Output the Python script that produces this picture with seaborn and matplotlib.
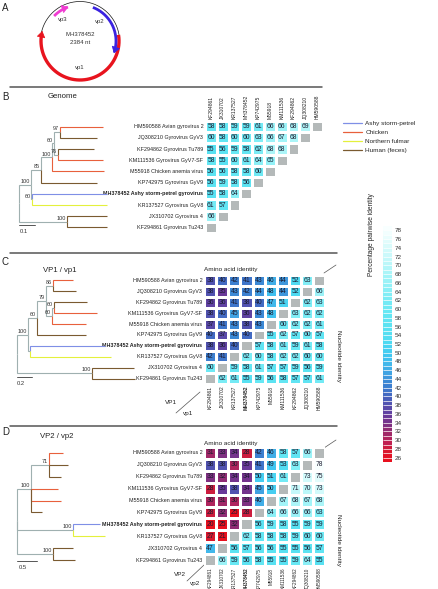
import numpy as np
import pandas as pd
import matplotlib
matplotlib.use("Agg")
import matplotlib.pyplot as plt
import seaborn as sns
from matplotlib.colors import LinearSegmentedColormap, ListedColormap, Normalize
from matplotlib.lines import Line2D
from matplotlib.cm import ScalarMappable

sns.set_theme(style="white")
plt.rcParams['font.family'] = ['Liberation Sans', 'DejaVu Sans']

W, H = 439, 589

# ---------------- data ----------------
row_ids = ["HM590588", "JQ308210", "KF294862", "KM111536", "M55918",
           "KP742975", "MH378452", "KR137527", "JX310702", "KF294861"]
row_names = ["Avian gyrovirus 2", "Gyrovirus GyV3", "Gyrovirus Tu789", "Gyrovirus GyV7-SF",
             "Chicken anemia virus", "Gyrovirus GyV9", "Ashy storm-petrel gyrovirus",
             "Gyrovirus GyV8", "Gyrovirus 4", "Gyrovirus Tu243"]
col_ids = ["KF294861", "JX310702", "KR137527", "MH378452", "KP742975",
           "M55918", "KM111536", "KF294862", "JQ308210", "HM590588"]
hosts = ["Chicken", "Human (feces)", "Human (feces)", "Chicken", "Chicken",
         "Human (feces)", "Ashy storm-petrel", "Northern fulmar", "Human (feces)", "Human (feces)"]
host_names = ["Ashy storm-petrel", "Chicken", "Northern fulmar", "Human (feces)"]
host_colors = ["#7f8fe6", "#e8603c", "#e4f03c", "#7a5a30"]

N = None
genome = [
    [58, 58, 59, 59, 61, 66, 66, 68, 69, N],
    [60, 58, 60, 60, 63, 66, 67, 68, N, N],
    [55, 56, 59, 58, 62, 68, 68, N, N, N],
    [58, 55, 60, 61, 64, 65, N, N, N, N],
    [56, 56, 58, 58, 60, N, N, N, N, N],
    [56, 59, 58, 56, N, N, N, N, N, N],
    [55, 58, 64, N, N, N, N, N, N, N],
    [61, 57, N, N, N, N, N, N, N, N],
    [66, N, N, N, N, N, N, N, N, N],
    [N, N, N, N, N, N, N, N, N, N],
]
vp1 = [
    [38, 40, 42, 41, 43, 46, 44, 52, 63, N],
    [38, 35, 43, 42, 44, 48, 44, 52, N, 66],
    [36, 36, 41, 38, 40, 47, 51, N, 62, 63],
    [38, 40, 45, 36, 43, 48, N, 63, 62, 62],
    [37, 41, 43, 38, 43, N, 60, 62, 62, 61],
    [40, 37, 43, 40, N, 55, 62, 57, 60, 57],
    [38, 36, 40, N, 57, 58, 61, 59, 61, 58],
    [42, 41, N, 62, 60, 58, 62, 62, 60, 60],
    [60, N, 59, 58, 61, 57, 57, 59, 56, 59],
    [N, 62, 61, 55, 59, 56, 58, 57, 57, 61],
]
vp2 = [
    [31, 33, 34, 28, 42, 46, 58, 57, 66, N],
    [38, 38, 30, 35, 41, 49, 53, 63, N, 78],
    [33, 32, 34, 34, 50, 51, 61, N, 73, 75],
    [28, 35, 38, 34, 45, 50, N, 71, 70, 73],
    [30, 31, 30, 33, 46, N, 67, 68, 67, 68],
    [28, 32, 25, 28, N, 64, 66, 66, 66, 63],
    [20, 25, 32, N, 56, 59, 58, 55, 59, 59],
    [27, 21, N, 62, 58, 58, 58, 59, 60, 60],
    [47, N, 56, 57, 56, 56, 55, 55, 56, 57],
    [N, 66, 59, 56, 58, 55, 55, 59, 64, 55],
]

# trees: (parent, child, branch length)
g_par = ["R", "A", "B85", "C100", "D60", "E97", "E97", "D60", "F76", "F76", "C100", "B85", "A", "G60", "G60", "R", "J100", "J100"]
g_chi = ["A", "B85", "C100", "D60", "E97", "HM590588", "JQ308210", "F76", "KF294862", "KM111536", "M55918", "KP742975", "G60", "MH378452", "KR137527", "J100", "JX310702", "KF294861"]
g_len = [0.075, 0.0625, 0.067, 0.016, 0.036, 0.267, 0.229, 0.025, 0.223, 0.277, 0.327, 0.348, 0.008, 0.465, 0.469, 0.298, 0.254, 0.254]
g_sup = {"A": 100, "B85": 85, "C100": 100, "D60": 60, "E97": 97, "F76": 76, "G60": 60, "J100": 100}

v1_par = ["R", "A", "B60", "C79", "D86", "D86", "C79", "E60", "F60", "F60", "E60", "B60", "A", "G", "G", "R", "J100", "J100"]
v1_chi = ["A", "B60", "C79", "D86", "HM590588", "JQ308210", "E60", "F60", "KF294862", "KM111536", "M55918", "KP742975", "G", "MH378452", "KR137527", "J100", "JX310702", "KF294861"]
v1_len = [0.155, 0.112, 0.124, 0.089, 0.267, 0.311, 0.076, 0.035, 0.432, 0.573, 0.457, 0.657, 0.027, 1.0, 1.07, 1.0, 0.56, 0.58]
v1_sup = {"A": 100, "B60": 60, "C79": 79, "D86": 86, "E60": 60, "F60": 60, "J100": 100}

v2_par = ["R", "A100", "B71", "B71", "B71", "A100", "A100", "A100", "R", "G100", "G100", "R", "J100", "J100"]
v2_chi = ["A100", "B71", "HM590588", "JQ308210", "KF294862", "KM111536", "M55918", "KP742975", "G100", "MH378452", "KR137527", "J100", "JX310702", "KF294861"]
v2_len = [0.35, 0.458, 0.335, 0.475, 0.285, 0.68, 0.75, 0.27, 1.4, 0.67, 0.8, 0.9, 0.5, 0.55]
v2_sup = {"A100": 100, "B71": 71, "G100": 100, "J100": 100}

# ---------------- colours ----------------
anchors = [(25, '#e8101e'), (27, '#d8182e'), (29, '#c02050'), (31, '#a02868'), (33, '#803080'),
           (35, '#6a3898'), (37, '#5a48a8'), (39, '#4a5cb8'), (41, '#3f72c8'), (43, '#3c86d4'),
           (45, '#40a0e0'), (47, '#42b4ea'), (49, '#40c4f0'), (51, '#48d2f2'), (53, '#50dcf2'),
           (56, '#5ae2f2'), (60, '#68e8f4'), (64, '#84eef6'), (68, '#a4f4f8'), (72, '#c4f8fa'),
           (76, '#e2fcfc'), (79, '#f8ffff')]
vmin, vmax = 25, 79
cont = LinearSegmentedColormap.from_list(
    "pid", [((v - vmin) / (vmax - vmin), c) for v, c in anchors])
cmap = ListedColormap(cont(np.linspace(0, 1, vmax - vmin)))
GREY = "#9fb0b0"
CELLGREY = "#b4b9b9"

fig = plt.figure(figsize=(W / 100, H / 100), dpi=100)


def px_axes(left, top, width, height):
    return fig.add_axes([left / W, 1 - (top + height) / H, width / W, height / H])


ax0 = px_axes(0, 0, W, H)
ax0.set_xlim(0, W)
ax0.set_ylim(H, 0)
ax0.axis("off")

# ---------------- panel A (genome map) ----------------
cx, cy = 80, 41


def arc(r, t0, t1, color, lw, arrow=True):
    t = np.radians(np.linspace(t0, t1, 160))
    xs = cx + r * np.cos(t)
    ys = cy - r * np.sin(t)
    cut = 4 if arrow else 0
    ax0.plot(xs[:len(xs) - cut], ys[:len(ys) - cut], color=color, lw=lw, solid_capstyle='butt')
    if arrow:
        ax0.annotate("", xy=(xs[-1], ys[-1]), xytext=(xs[-6], ys[-6]),
                     arrowprops=dict(arrowstyle="-|>,head_length=0.45,head_width=0.3",
                                     color=color, lw=0.5, shrinkA=0, shrinkB=0,
                                     mutation_scale=9))


arc(39.5, 0, 360, "#111111", 0.5, arrow=False)
arc(39, 9, -195, "#e8141e", 2.4)
arc(36, 69, -20, "#3a22e0", 2.0)
arc(36, 136, 109, "#f03cd2", 2.0)
for txt, (x, y) in zip(["vp3", "vp2", "MH378452", "2384 nt", "vp1"],
                       [(63, 19), (100, 22), (80, 35), (80, 43), (80, 67)]):
    ax0.text(x, y, txt, fontsize=4.3, ha="center", va="center", color="#333333")

# separators & panel labels
for y, x1 in [(87, 322), (253, 337), (426, 337)]:
    ax0.plot([10, x1], [y, y], color="#555555", lw=1.1)
for lab, y in zip("ABCD", [8, 97, 262, 432]):
    ax0.text(2, y, lab, fontsize=7, ha="left", va="center", color="#222222")
for t, x, y in [("Genome", 48, 96), ("VP1 / vp1", 43, 271), ("VP2 / vp2", 40, 437)]:
    ax0.text(x, y, t, fontsize=5.6, ha="left", va="center", color="#222222")
for y in [269, 443]:
    ax0.text(204, y, "Amino acid identity", fontsize=4.6, ha="left", va="center", color="#222222")
for y in [356, 540]:
    ax0.text(339, y, "Nucleotide identity", fontsize=4.6, ha="center", va="center",
             rotation=-90, color="#222222")
for y0 in [273, 448]:
    ax0.plot([324, 336], [y0, y0 - 8], color="#555555", lw=0.5)
ax0.plot([176, 200], [413, 392], color="#555555", lw=0.5)
ax0.text(177, 403, "VP1", fontsize=4.6, ha="right", va="center", color="#222222")
ax0.text(183, 413, "vp1", fontsize=4.6, ha="left", va="center", color="#222222")
ax0.plot([187, 204], [581, 565], color="#555555", lw=0.5)
ax0.text(186, 574, "VP2", fontsize=4.6, ha="right", va="center", color="#222222")
ax0.text(190, 584, "vp2", fontsize=4.6, ha="left", va="center", color="#222222")

# ---------------- heatmaps ----------------
ylabels = [f"{a} {b}" for a, b in zip(row_ids, row_names)]
self_mask = np.array([[r == c for c in col_ids] for r in row_ids])


def heat(ax, data, top_labels, xfs=3.6):
    df = pd.DataFrame(np.array(data, dtype=float), index=ylabels, columns=col_ids)
    grey = pd.DataFrame(np.where(self_mask, 1.0, np.nan), index=ylabels, columns=col_ids)
    sns.heatmap(grey, ax=ax, cmap=ListedColormap([CELLGREY]), cbar=False,
                linewidths=0.9, linecolor="white")
    sns.heatmap(df, ax=ax, cmap=cmap, vmin=vmin, vmax=vmax, cbar=False, annot=True, fmt=".0f",
                annot_kws=dict(size=4.9, color="#1c1c30"), linewidths=0.9, linecolor="white",
                xticklabels=col_ids, yticklabels=ylabels)
    ax.tick_params(length=0, pad=1.2)
    ax.set_yticklabels(ylabels, fontsize=3.9, rotation=0, color="#222222")
    ax.set_xticklabels(col_ids, fontsize=xfs, rotation=90, color="#222222")
    for t in ax.get_yticklabels() + ax.get_xticklabels():
        if t.get_text().startswith("MH378452"):
            t.set_fontweight("bold")
    if top_labels:
        ax.xaxis.tick_top()
    ax.set_xlabel("")
    ax.set_ylabel("")


grids = {"genome": (205, 121, 118, 112), "vp1": (204, 275, 121.5, 109), "vp2": (204, 447, 121.5, 119)}
heat(px_axes(*grids["genome"]), genome, True)
heat(px_axes(*grids["vp1"]), vp1, False)
heat(px_axes(*grids["vp2"]), vp2, False, xfs=3.3)

# ---------------- trees ----------------
host_col = dict(zip(host_names, host_colors))
leaf_col = {r: host_col[h] for r, h in zip(row_ids, hosts)}


def tree(grid, par, chi, blen, sup, root_px, scale, bar, bar_row):
    left, top, width, height = grid
    ax = px_axes(0, top, 202, height)
    ax.set_xlim(-root_px / scale, (202 - root_px) / scale)
    ax.set_ylim(10, 0)
    ax.axis("off")
    kids = {}
    for p, c in zip(par, chi):
        kids.setdefault(p, []).append(c)
    root = [p for p in kids if p not in chi][0]
    bl = dict(zip(chi, blen))
    xs = {root: 0.0}
    order = [root]
    i = 0
    while i < len(order):
        n = order[i]
        i += 1
        for c in kids.get(n, []):
            xs[c] = xs[n] + bl[c]
            order.append(c)
    ys = {}
    for n in reversed(order):
        if n in kids:
            cy_ = [ys[k] for k in kids[n]]
            ys[n] = (min(cy_) + max(cy_)) / 2
        else:
            ys[n] = row_ids.index(n) + 0.5
    for p, c in zip(par, chi):
        col = leaf_col.get(c, GREY)
        ax.plot([xs[p], xs[p], xs[c]], [ys[p], ys[c], ys[c]], color=col, lw=0.8,
                solid_capstyle="butt", solid_joinstyle="miter")
    for n, s in sup.items():
        ax.text(xs[n] - 1.2 / scale, ys[n] - 0.08, str(s), fontsize=4.0, ha="right",
                va="bottom", color="#333333")
    ax.plot([0, bar], [bar_row, bar_row], color="#555555", lw=0.7, clip_on=False)
    ax.text(bar * 0.3, bar_row + 0.35, str(bar), fontsize=4.2, ha="center", va="top",
            color="#333333", clip_on=False)


tree(grids["genome"], g_par, g_chi, g_len, g_sup, 19, 160, 0.1, 9.3)
tree(grids["vp1"], v1_par, v1_chi, v1_len, v1_sup, 16.7, 75, 0.2, 9.4)
tree(grids["vp2"], v2_par, v2_chi, v2_len, v2_sup, 17, 40, 0.5, 9.6)

# ---------------- legend ----------------
handles = [Line2D([], [], color=c, lw=0.9) for c in host_colors]
fig.legend(handles, host_names, loc="upper left", bbox_to_anchor=(343 / W, 1 - 121 / H),
           fontsize=4.6, frameon=False, handlelength=3.0, labelspacing=0.55, handletextpad=0.5,
           borderaxespad=0, borderpad=0)

# ---------------- colour bar ----------------
cax = px_axes(383, 226, 9, 236)
sm = ScalarMappable(norm=Normalize(vmin, vmax), cmap=cmap)
cb = fig.colorbar(sm, cax=cax, ticks=list(range(26, 79, 2)), drawedges=True)
cb.dividers.set_color("white")
cb.dividers.set_linewidth(0.5)
cb.outline.set_visible(False)
cax.tick_params(length=0, labelsize=4.6, pad=2, colors="#333333")
ax0.text(372, 235, "Percentage pairwise identity", rotation=90, fontsize=4.8,
         ha="center", va="center", color="#222222")

fig.savefig("out.png", dpi=100)
